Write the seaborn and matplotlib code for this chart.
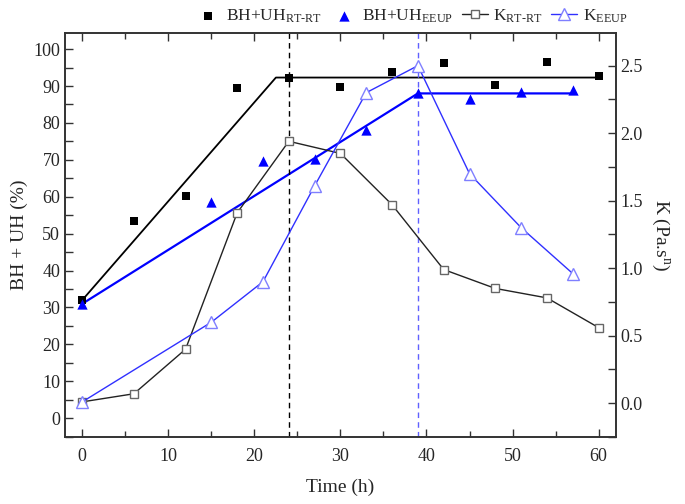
import matplotlib
matplotlib.use("Agg")
import matplotlib.pyplot as plt
import seaborn as sns
import pandas as pd
from matplotlib.ticker import MultipleLocator

# BH+UH (%) - left axis
t_rt = [0, 6, 12, 18, 24, 30, 36, 42, 48, 54, 60]
bhuh_rt = [32.0, 53.5, 60.3, 89.5, 92.2, 89.7, 93.9, 96.3, 90.3, 96.4, 92.6]
t_eeup = [0, 15, 21, 27, 33, 39, 45, 51, 57]
bhuh_eeup = [31.0, 58.6, 69.8, 70.3, 78.0, 88.0, 86.5, 88.3, 89.0]

# K (Pa.s^n) - right axis
k_rt = [0.01, 0.07, 0.40, 1.41, 1.94, 1.85, 1.47, 0.99, 0.85, 0.78, 0.56]
k_eeup = [0.01, 0.60, 0.90, 1.61, 2.30, 2.50, 1.70, 1.30, 0.96]

# fitted trend lines (break points)
fit_rt_x = [0, 22.5, 60]
fit_rt_y = [32.0, 92.3, 92.3]
fit_eeup_x = [0, 39, 57]
fit_eeup_y = [31.0, 88.0, 88.0]

# vertical markers
vline_rt = 24
vline_eeup = 39

sns.set_style("ticks")
plt.rcParams["font.family"] = ["Liberation Serif", "DejaVu Serif"]
plt.rcParams["mathtext.fontset"] = "custom"
plt.rcParams["mathtext.rm"] = "Liberation Serif"
plt.rcParams["mathtext.it"] = "Liberation Serif"

fig = plt.figure(figsize=(6.85, 5.04), dpi=100)
ax = fig.add_axes([0.095, 0.133, 0.804, 0.801])
ax2 = ax.twinx()

df_rt = pd.DataFrame({"t": t_rt, "bh": bhuh_rt, "k": k_rt})
df_ee = pd.DataFrame({"t": t_eeup, "bh": bhuh_eeup, "k": k_eeup})

ax.plot(fit_rt_x, fit_rt_y, color="black", lw=1.3, zorder=2)
ax.plot(fit_eeup_x, fit_eeup_y, color="#0000ff", lw=1.6, zorder=2)
ax.axvline(vline_rt, color="black", ls=(0, (4, 3)), lw=1.0)
ax.axvline(vline_eeup, color="#6060ff", ls=(0, (4, 3)), lw=1.0)

sns.scatterplot(data=df_rt, x="t", y="bh", ax=ax, marker="s", color="black",
                s=36, edgecolor="black", linewidth=0, zorder=4,
                label=r"BH+UH$_{\mathrm{RT\text{-}RT}}$")
sns.scatterplot(data=df_ee, x="t", y="bh", ax=ax, marker="^", color="#0000ff",
                s=55, edgecolor="#0000ff", linewidth=0, zorder=4,
                label=r"BH+UH$_{\mathrm{EEUP}}$")

sns.lineplot(data=df_rt, x="t", y="k", ax=ax2, color="#222222", lw=1.0,
             marker="s", markersize=6, markerfacecolor="white",
             markeredgecolor="#666666", markeredgewidth=1.0,
             label=r"K$_{\mathrm{RT\text{-}RT}}$")
sns.lineplot(data=df_ee, x="t", y="k", ax=ax2, color="#3030ff", lw=1.0,
             marker="^", markersize=8, markerfacecolor="white",
             markeredgecolor="#7f7fff", markeredgewidth=1.0,
             label=r"K$_{\mathrm{EEUP}}$")

ax.set_xlim(-2, 62)
ax.set_ylim(-5.1, 104.3)
ax2.set_ylim(-0.25, 2.74)

ax.xaxis.set_major_locator(MultipleLocator(10))
ax.xaxis.set_minor_locator(MultipleLocator(5))
ax.yaxis.set_major_locator(MultipleLocator(10))
ax.yaxis.set_minor_locator(MultipleLocator(5))
ax2.yaxis.set_major_locator(MultipleLocator(0.5))
ax2.yaxis.set_minor_locator(MultipleLocator(0.25))
ax2.yaxis.set_major_formatter(matplotlib.ticker.FormatStrFormatter("%.1f"))

ax.tick_params(axis="both", which="both", direction="in", top=True,
               labelsize=13, width=1.0, color="#333333")
ax.tick_params(axis="both", which="major", length=6)
ax.tick_params(axis="both", which="minor", length=4)
ax.tick_params(axis="y", which="minor", length=6)
ax.tick_params(axis="x", pad=8)
ax2.tick_params(axis="y", which="both", direction="in", labelsize=13,
                width=1.0, length=6, color="#333333")

for a in (ax, ax2):
    for sp in a.spines.values():
        sp.set_visible(True)
        sp.set_linewidth(1.2)
        sp.set_color("#333333")

ax.set_xlabel("Time (h)", fontsize=14, labelpad=10)
ax.set_ylabel("BH + UH (%)", fontsize=14, labelpad=4)
ax2.set_ylabel(r"K (Pa.s$^{\mathrm{n}}$)", fontsize=14, rotation=270, labelpad=20)

h1, l1 = ax.get_legend_handles_labels()
h2, l2 = ax2.get_legend_handles_labels()
ax.get_legend().remove()
ax2.get_legend().remove()
fig.legend(h1 + h2, l1 + l2, loc="center", bbox_to_anchor=(0.6, 0.968), ncol=4,
           frameon=False, fontsize=12.5, handlelength=1.5, columnspacing=0.5,
           handletextpad=0.3)

fig.savefig("out.png", dpi=100)
